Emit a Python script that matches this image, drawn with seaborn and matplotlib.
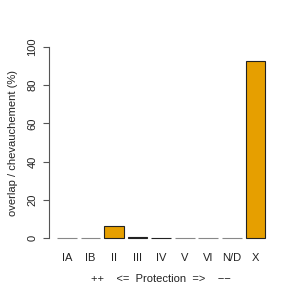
import matplotlib
matplotlib.use("Agg")
import matplotlib.pyplot as plt
import seaborn as sns
import pandas as pd

categories = ["IA", "IB", "II", "III", "IV", "V", "VI", "N/D", "X"]
overlap = [0.0, 0.0, 6.5, 0.5, 0.2, 0.0, 0.0, 0.0, 92.5]
yticks = [0, 20, 40, 60, 80, 100]

sns.set_style("white")
plt.rcParams['font.family'] = ['Liberation Sans', 'DejaVu Sans']

df = pd.DataFrame({"cat": categories, "val": overlap})

fig = plt.figure(figsize=(3, 3), dpi=100)
ax = fig.add_axes([0.162, 0.181, 0.750, 0.688])
sns.barplot(data=df, x="cat", y="val", ax=ax, color="#E69F00", saturation=1,
            width=0.833, edgecolor="#222222", linewidth=0.8)
for p, v in zip(ax.patches, overlap):
    if v == 0:
        p.set_edgecolor("#888888")
ax.set_xlim(-0.77, 8.77)
ax.set_ylim(-4, 104)
for s in ["top", "right", "bottom"]:
    ax.spines[s].set_visible(False)
ax.spines["left"].set_bounds(0, 100)
ax.spines["left"].set_color("#555555")
ax.spines["left"].set_linewidth(0.8)
ax.set_yticks(yticks)
ax.set_yticklabels([str(t) for t in yticks], rotation=90, va="center", fontsize=8, color="#222222")
ax.tick_params(axis="y", left=True, length=4, width=0.8, color="#555555", pad=4)
ax.tick_params(axis="x", bottom=False, length=0, pad=5, labelsize=8, labelcolor="#222222")
ax.set_ylabel("overlap / chevauchement (%)", fontsize=8, labelpad=7, color="#222222")
ax.set_xlabel("++    <=  Protection  =>    \u2212\u2212", fontsize=8, labelpad=8, color="#222222")
ax.grid(False)
fig.savefig("out.png", dpi=100)
